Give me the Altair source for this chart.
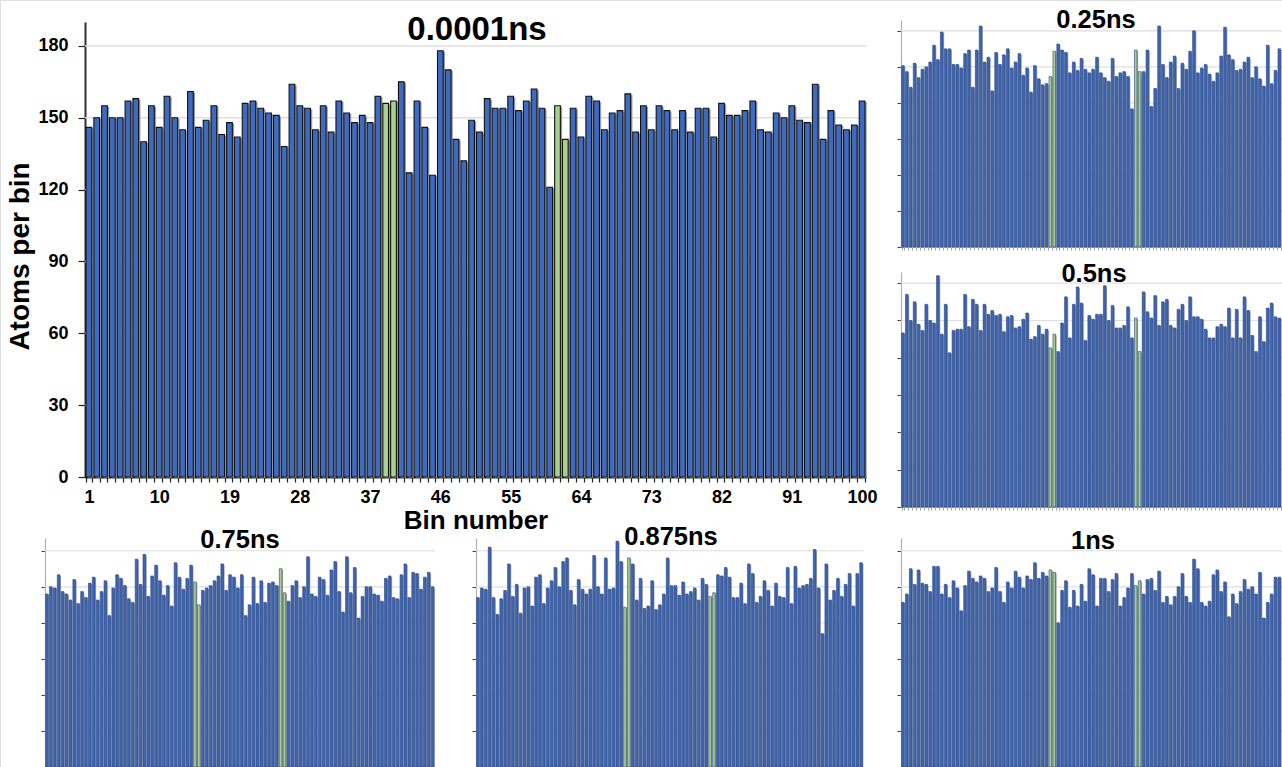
import altair as alt
import pandas as pd

bins = list(range(1, 101))
green_bins = [39, 40, 61, 62]
grid_values = [30, 60, 90, 120, 150, 180]
y_tick_values = [0, 30, 60, 90, 120, 150, 180]
main_tick_labels = [1, 10, 19, 28, 37, 46, 55, 64, 73, 82, 91, 100]

atoms_0_0001ns = [146, 150, 155, 150, 150, 157, 158, 140, 155, 146,
                  159, 150, 145, 161, 146, 149, 155, 143, 148, 142,
                  156, 157, 154, 152, 151, 138, 164, 155, 154, 145,
                  155, 144, 157, 152, 148, 151, 148, 159, 156, 157,
                  165, 127, 157, 146, 126, 178, 170, 141, 132, 149,
                  144, 158, 154, 154, 159, 153, 157, 162, 154, 121,
                  155, 141, 154, 142, 159, 157, 145, 152, 153, 160,
                  144, 155, 145, 155, 153, 145, 153, 144, 154, 154,
                  142, 156, 151, 151, 153, 157, 145, 144, 152, 150,
                  155, 149, 148, 164, 141, 153, 147, 145, 147, 157]

atoms_0_25ns = [151, 146, 133, 153, 141, 148, 150, 154, 168, 156,
                179, 165, 165, 152, 152, 149, 161, 164, 133, 164,
                184, 154, 158, 130, 162, 152, 160, 165, 149, 154,
                161, 143, 149, 129, 151, 140, 135, 136, 142, 163,
                169, 164, 162, 145, 154, 147, 157, 148, 145, 148,
                158, 145, 141, 138, 157, 142, 145, 146, 142, 115,
                164, 146, 146, 164, 117, 132, 184, 152, 141, 154,
                159, 132, 153, 148, 163, 180, 145, 149, 152, 144,
                138, 145, 159, 183, 160, 156, 147, 148, 154, 158,
                141, 150, 140, 134, 168, 136, 147, 165]

atoms_0_5ns = [140, 171, 150, 165, 147, 142, 163, 150, 148, 186,
               139, 163, 124, 142, 143, 143, 171, 145, 167, 163,
               142, 163, 155, 158, 154, 155, 141, 153, 154, 144,
               145, 151, 156, 135, 137, 146, 139, 143, 128, 139,
               125, 148, 169, 136, 163, 177, 164, 134, 154, 151,
               155, 155, 178, 150, 162, 144, 144, 146, 161, 136,
               152, 125, 173, 157, 152, 170, 146, 165, 167, 146,
               144, 159, 163, 150, 169, 153, 153, 151, 143, 136,
               136, 145, 147, 145, 160, 136, 159, 136, 169, 158,
               138, 125, 153, 133, 160, 164, 153, 152]

atoms_0_75ns = [144, 150, 149, 160, 146, 144, 139, 156, 136, 146,
                141, 153, 158, 139, 146, 155, 126, 149, 160, 157,
                151, 140, 137, 173, 152, 177, 142, 159, 168, 155,
                143, 151, 134, 170, 158, 148, 157, 168, 154, 135,
                147, 149, 151, 155, 159, 169, 147, 160, 158, 149,
                160, 126, 135, 158, 136, 155, 137, 153, 154, 151,
                165, 145, 138, 151, 155, 141, 150, 175, 144, 142,
                158, 156, 143, 164, 171, 146, 129, 175, 145, 166,
                124, 142, 150, 150, 144, 143, 138, 157, 159, 141,
                140, 160, 169, 141, 162, 161, 148, 158, 162, 150]

atoms_0_875ns = [141, 149, 148, 183, 141, 127, 140, 147, 169, 142,
                 152, 128, 149, 150, 134, 158, 160, 136, 149, 155,
                 166, 150, 171, 174, 147, 135, 156, 148, 144, 148,
                 176, 150, 144, 174, 148, 149, 188, 171, 133, 174,
                 169, 139, 157, 132, 134, 155, 131, 135, 144, 174,
                 151, 151, 143, 154, 144, 146, 149, 139, 157, 152,
                 142, 145, 160, 159, 166, 158, 141, 141, 153, 136,
                 169, 161, 137, 142, 155, 147, 134, 153, 142, 141,
                 166, 136, 167, 149, 151, 152, 157, 181, 149, 111,
                 169, 139, 147, 157, 142, 152, 161, 134, 161, 170]

atoms_1ns = [137, 144, 165, 152, 164, 153, 152, 146, 167, 167,
             144, 152, 141, 155, 149, 130, 151, 163, 157, 154,
             159, 157, 146, 149, 166, 146, 137, 154, 149, 163,
             158, 149, 159, 156, 170, 157, 162, 159, 164, 162,
             120, 147, 155, 133, 147, 134, 152, 138, 165, 160,
             134, 157, 157, 146, 156, 161, 134, 141, 149, 161,
             151, 155, 144, 156, 157, 147, 163, 137, 142, 135,
             142, 150, 161, 142, 137, 173, 165, 137, 134, 138,
             160, 164, 146, 154, 125, 144, 136, 146, 156, 148,
             150, 144, 162, 124, 137, 144, 158, 158]

FONT = "Liberation Sans"
BLUE = "#3D6BC4"
BLUE_SMALL = "#3C66BA"
GREEN = "#A9D18E"
W, H = 1282, 767


def frame(values):
    n = len(values)
    return pd.DataFrame({
        "bin": bins[:n],
        "atoms": values,
        "green": [b in green_bins for b in bins[:n]],
    })


def panel(values, title, x0, x1, ybot, ytop, ymax, tx, ty, tsize,
          main=False, xaxis_y=None):
    df = frame(values)
    pin = 0.27 if main else 0.33
    xs = alt.Scale(domain=bins, range=[x0, x1], paddingInner=pin, paddingOuter=pin / 2)
    ys = alt.Scale(domain=[0, ymax], range=[ybot, ytop], nice=False, zero=True)
    grid = alt.Chart(pd.DataFrame({"g": grid_values})).mark_rule(
        color="#DEDEDE", strokeWidth=1.6 if main else 1.2
    ).encode(
        y=alt.Y("g:Q", scale=ys, axis=None),
        x=alt.value(x0),
        x2=alt.value(min(x1, W)),
    )
    shadow = alt.Chart(df).mark_bar(
        color="#9C9C9C" if main else "#A9A9A9",
        xOffset=1.8 if main else 1.1, yOffset=1,
    ).encode(
        x=alt.X("bin:O", scale=xs, axis=None),
        y=alt.Y("atoms:Q", scale=ys, axis=None),
    )
    if main:
        xaxis = alt.Axis(
            orient="bottom", offset=xaxis_y - H, title="Bin number",
            labelExpr="indexof(" + str(main_tick_labels) + ", datum.value) >= 0 ? datum.label : ''",
            labelAngle=0, labelFont=FONT, labelFontSize=18, labelFontWeight="bold",
            labelColor="black", labelPadding=6, tickSize=5, tickBand="extent",
            tickColor="#202020", tickWidth=1.2, domainColor="#202020", domainWidth=2,
            titleFont=FONT, titleFontSize=26, titleFontWeight="bold", titleColor="black",
            titlePadding=1, grid=False,
        )
        yaxis = alt.Axis(
            orient="left", offset=-x0, title="Atoms per bin", values=y_tick_values,
            labelFont=FONT, labelFontSize=18, labelFontWeight="bold", labelColor="black",
            labelPadding=10, tickSize=7, tickColor="#202020", tickWidth=1.2,
            domainColor="#303030", domainWidth=2,
            titleFont=FONT, titleFontSize=28, titleFontWeight="bold", titleColor="black",
            titlePadding=3, titleY=256, grid=False,
        )
        stroke, sw = "#111111", 1.1
    else:
        if xaxis_y is not None:
            xaxis = alt.Axis(
                orient="bottom", offset=xaxis_y - H, title=None, labels=False,
                tickSize=3, tickBand="extent", tickColor="#8C8C8C", tickWidth=0.8,
                domainColor="#A6A6A6", domainWidth=1, grid=False,
            )
        else:
            xaxis = None
        yaxis = alt.Axis(
            orient="left", offset=-x0, title=None, labels=False, values=y_tick_values,
            tickSize=4, tickColor="#404040", tickWidth=1,
            domainColor="#B0B0B0", domainWidth=1.2, grid=False,
        )
        stroke, sw = "#24407A", 0.6
    bars = alt.Chart(df).mark_bar(stroke=stroke, strokeWidth=sw).encode(
        x=alt.X("bin:O", scale=xs, axis=xaxis),
        y=alt.Y("atoms:Q", scale=ys, axis=yaxis),
        fill=alt.condition("datum.green", alt.value(GREEN), alt.value(BLUE if main else BLUE_SMALL)),
    )
    label = alt.Chart(pd.DataFrame({"t": [title]})).mark_text(
        font=FONT, fontSize=tsize, fontWeight="bold", color="black",
        align="center", baseline="alphabetic",
    ).encode(x=alt.value(tx), y=alt.value(ty), text="t:N")
    return [grid, shadow, bars, label]


layers = []
layers += panel(atoms_0_0001ns, "0.0001ns", 85, 866, 477, 22, 190, 477, 40, 33, main=True, xaxis_y=477)
layers += panel(atoms_0_25ns, "0.25ns", 901, 1289, 247, 20, 189, 1096, 28, 25.5, xaxis_y=247)
layers += panel(atoms_0_5ns, "0.5ns", 901, 1289, 507, 272, 189, 1094, 282, 25.5, xaxis_y=507)
layers += panel(atoms_0_75ns, "0.75ns", 45, 434.5, 767, 538, 190.6, 240, 548, 25.5)
layers += panel(atoms_0_875ns, "0.875ns", 476, 863, 767, 538, 190.6, 671, 545, 25.5)
layers += panel(atoms_1ns, "1ns", 901, 1289, 767, 538, 190.6, 1093, 549, 25.5)

chart = alt.layer(*layers).resolve_scale(
    x="independent", y="independent"
).resolve_axis(
    x="independent", y="independent"
).properties(
    width=W, height=H, padding=0,
    autosize=alt.AutoSizeParams(type="none"),
).configure_view(stroke=None).configure(background="white")

chart.save("out.html", embed_options={"renderer": "svg", "actions": False})
